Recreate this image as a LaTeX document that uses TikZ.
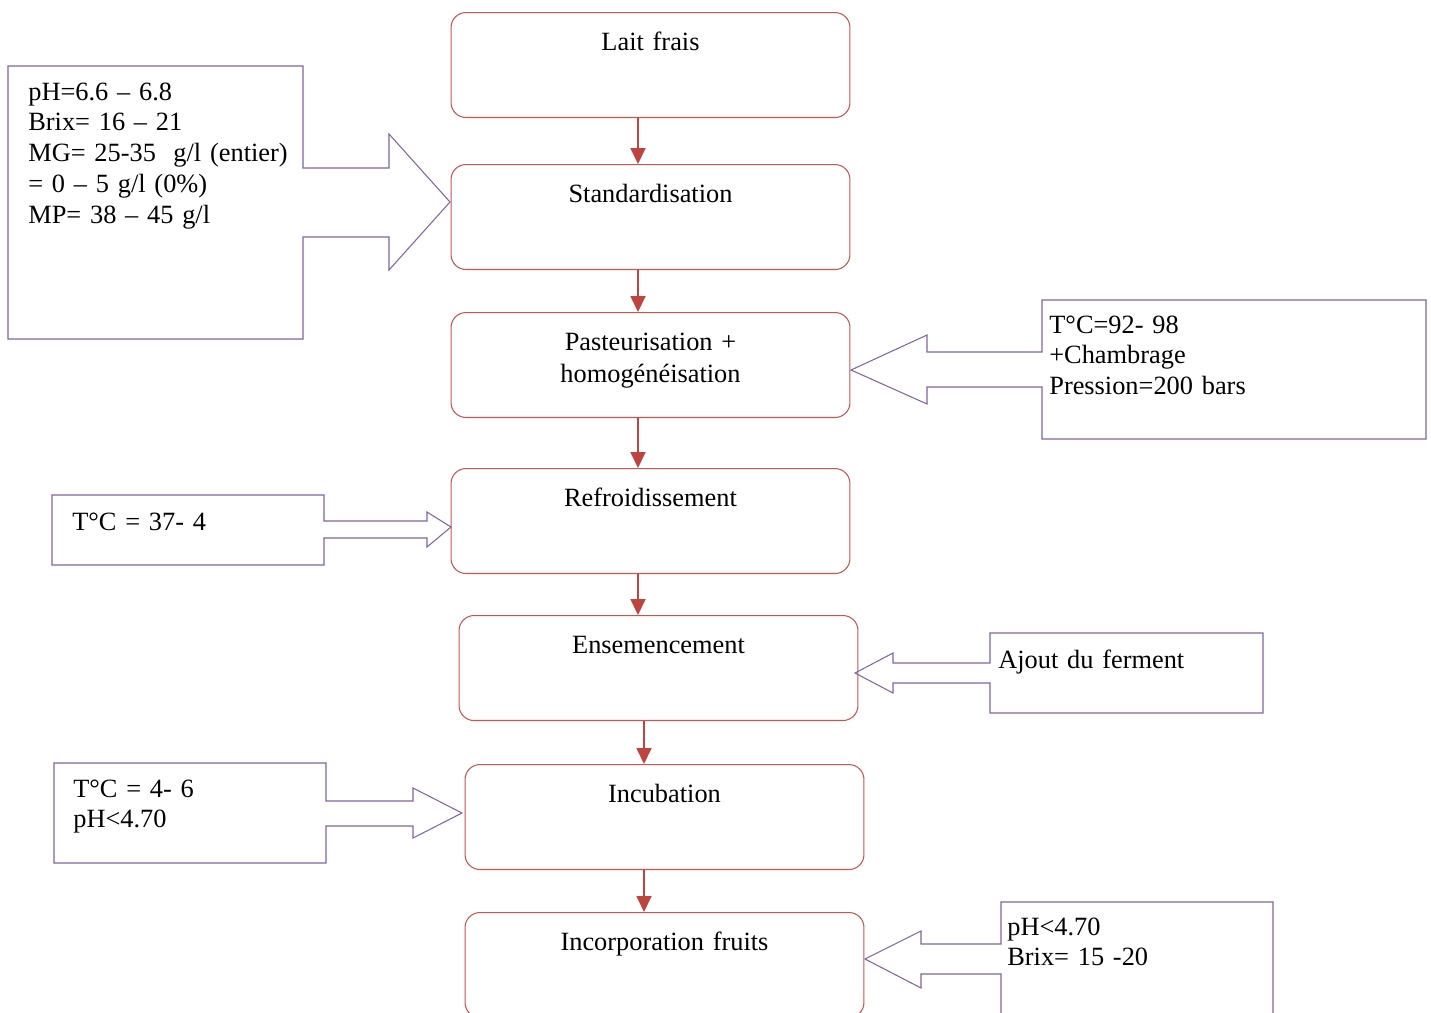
\documentclass[tikz,border=0pt]{standalone}
\usepackage{fontspec}
\setmainfont[WordSpace=0.8]{Liberation Serif}
\usepackage{tikz}
\usetikzlibrary{arrows.meta, positioning, calc}
\definecolor{stepred}{RGB}{200, 85, 82}
\definecolor{flowred}{RGB}{190, 68, 64}
\definecolor{notepurple}{RGB}{128, 100, 162}
\tikzstyle{stepbox} = [
    draw=stepred,
    line width=0.6pt,
    rounded corners=0.3cm,
    anchor=north,
    text width=7.98cm,
    align=center,
    inner sep=0pt,
    text height=0.76cm,
    text depth=1.34cm,
    font=\fontsize{15}{18}\selectfont
]
\tikzstyle{flow} = [
    line width=1pt,
    -{Triangle[width=0.3cm, length=0.32cm]},
    color=flowred
]
\tikzstyle{callout} = [draw=notepurple, line width=0.6pt]
\tikzstyle{note} = [
    anchor=base west,
    text width=7cm,
    align=left,
    inner sep=0pt,
    font=\fontsize{15}{17.6}\selectfont
]

\begin{document}
\begin{tikzpicture}[x=0.02cm, y=-0.02cm]
        % Page
        \clip (0, 0) rectangle (1431, 1012);

        % Steps
        \node[stepbox] (lait) at (650.5, 12) {Lait frais};
        \node[stepbox] (standard) at (650.5, 164) {Standardisation};
        \node[stepbox] (pasteur) at (650.5, 312) {Pasteurisation +\\homogénéisation};
        \node[stepbox] (refroid) at (650.5, 468) {Refroidissement};
        \node[stepbox] (ensemenc) at (658.5, 615) {Ensemencement};
        \node[stepbox] (incub) at (664.5, 764) {Incubation};
        \node[stepbox] (incorp) at (664.5, 912) {Incorporation fruits};

        % Flow
        \draw[flow] ([xshift=-0.25cm]lait.south) -- ([xshift=-0.25cm]lait.south |- standard.north);
        \draw[flow] ([xshift=-0.25cm]standard.south) -- ([xshift=-0.25cm]standard.south |- pasteur.north);
        \draw[flow] ([xshift=-0.25cm]pasteur.south) -- ([xshift=-0.25cm]pasteur.south |- refroid.north);
        \draw[flow] ([xshift=-0.25cm]refroid.south) -- ([xshift=-0.25cm]refroid.south |- ensemenc.north);
        \draw[flow] ([xshift=-0.29cm]ensemenc.south) -- ([xshift=-0.29cm]ensemenc.south |- incub.north);
        \draw[flow] ([xshift=-0.41cm]incub.south) -- ([xshift=-0.41cm]incub.south |- incorp.north);

        % Standardisation callout
        \draw[callout] (303, 66) -- (8, 66) -- (8, 339) -- (303, 339) -- (303, 237) -- (389, 237)
            -- (389, 270) -- (450, 202) -- (389, 134) -- (389, 168) -- (303, 168) -- cycle;
        \node[note] (stdnote) at (28, 100) {pH=6.6 – 6.8\\Brix= 16 – 21\\MG= 25-35~ g/l (entier)\\= 0 – 5 g/l (0\%)\\MP= 38 – 45 g/l};

        % Pasteurisation callout
        \draw[callout] (1042, 300) -- (1426, 300) -- (1426, 439) -- (1042, 439) -- (1042, 387) -- (927, 387)
            -- (927, 404) -- (851, 370) -- (927, 335) -- (927, 352) -- (1042, 352) -- cycle;
        \node[note] (pastnote) at (1049, 333) {T°C=92- 98\\+Chambrage\\Pression=200 bars};

        % Refroidissement callout
        \draw[callout] (324, 495) -- (52, 495) -- (52, 565) -- (324, 565) -- (324, 538) -- (427, 538)
            -- (427, 547) -- (451, 527) -- (427, 512) -- (427, 521) -- (324, 521) -- cycle;
        \node[note] (refnote) at (72, 530) {T°C = 37- 4};

        % Ensemencement callout
        \draw[callout] (990, 633) -- (1263, 633) -- (1263, 713) -- (990, 713) -- (990, 683) -- (893, 683)
            -- (893, 693) -- (855, 673) -- (893, 653) -- (893, 663) -- (990, 663) -- cycle;
        \node[note] (ensnote) at (998, 668) {Ajout du ferment};

        % Incubation callout
        \draw[callout] (326, 763) -- (54, 763) -- (54, 863) -- (326, 863) -- (326, 826) -- (413, 826)
            -- (413, 838) -- (462, 813) -- (413, 788) -- (413, 801) -- (326, 801) -- cycle;
        \node[note] (incnote) at (73, 797) {T°C = 4- 6\\pH<4.70};

        % Incorporation callout
        \draw[callout] (1001, 902) -- (1273, 902) -- (1273, 1030) -- (1001, 1030) -- (1001, 974) -- (921, 974)
            -- (921, 988) -- (865, 959) -- (921, 931) -- (921, 944) -- (1001, 944) -- cycle;
        \node[note] (fruitnote) at (1007, 935) {pH<4.70\\Brix= 15 -20};
    \end{tikzpicture}
\end{document}
